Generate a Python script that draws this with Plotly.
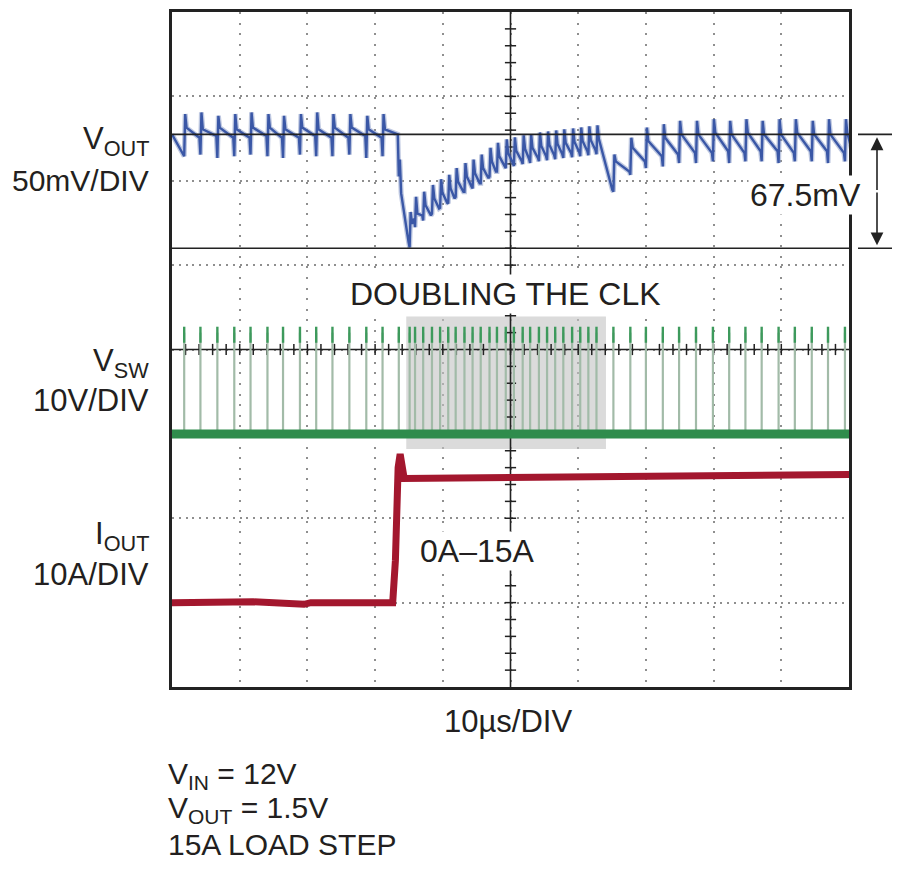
import plotly.graph_objects as go

# ---------------- data ----------------
# horizontal: time in µs (10 µs/DIV, 10 divisions)
SW_PULSE_T = [1.8, 4.2, 6.7, 9.2, 11.6, 14.1, 16.4, 18.9, 21.3, 23.7, 26.2, 28.7, 31.1, 33.5,
              35.1, 35.9, 37.1, 38.4, 39.6, 40.8, 41.9, 43.2, 44.4, 45.6, 46.9, 48.0, 49.3, 50.5,
              51.8, 52.9, 54.2, 55.4, 56.6, 57.8, 59.1, 60.3, 61.5, 62.7,
              65.2, 67.7, 70.0, 72.5, 74.9, 77.4, 79.9, 82.3, 84.7, 87.1, 89.6, 92.0, 94.5, 96.9, 99.4]
SW_HIGH_V = 12.0          # switch-node pulse height (V)
SW_TIP_LOW_V = 10.8       # darker tip of each pulse (V)
SW_TIP_HIGH_V = 12.7

# VOUT ripple per switching cycle, mV relative to the upper cursor level
VOUT_START_MV = 0.0
VOUT_TROUGH = [-13, -12, -14, -13, -12, -13, -14, -12, -13, -13, -12, -14, -13, -25,
               -67, -55,
               -51, -47, -43.6, -41, -37, -34, -32, -29, -25, -22, -20, -18.8, -17.6, -17,
               -15.9, -15.3, -14.7, -14, -13.5, -12.9, -12.3, -11.7,
               -34, -24, -20, -19, -17, -17, -16, -17, -16, -16, -17, -16, -16, -17, -16]
VOUT_PEAK = [12, 13, 11, 12, 13, 12, 11, 12, 13, 12, 12, 11, 12, -15,
             -46, -37,
             -34, -30, -26.6, -24, -20, -17, -15, -12, -8, -5, -3, -1.8, -0.6, 0,
             1.1, 1.7, 2.3, 3, 3.5, 4.1, 4.7, 5.3,
             -12, -2, 4, 6, 8, 8, 9, 8, 9, 8, 9, 9, 8, 9, 9]
VOUT_CYCLE_START = [4, 3, 4, 3, 4, 4, 3, 4, 3, 4, 4, 3, 3, -35,
                    -53, -47,
                    -42, -38, -34.6, -32, -28, -25, -23, -20, -16, -13, -11, -9.8, -8.6, -8,
                    -6.9, -6.3, -5.7, -5, -4.5, -3.9, -3.3, -2.7,
                    -16, -8, -4, -2, 0, 0, 1, 0, 1, 0, 0, 1, 0, 0, 1]
VOUT_CYCLE_END = [-2, -1, -2, -2, -1, -2, -2, -1, -2, -2, -1, -2, 0, -64,
                  -50, -48,
                  -48, -44, -40.6, -38, -34, -31, -29, -26, -22, -19, -17, -15.8, -14.6, -14,
                  -12.9, -12.3, -11.7, -11, -10.5, -9.9, -9.3, -33,
                  -22, -16, -13, -12, -11, -11, -10, -11, -10, -10, -11, -10, -10, -11, -10]

# IOUT (A) vs time (µs)
IOUT_T = [0, 12, 19.5, 20.5, 32.6, 33.0, 33.4, 33.7, 34.3, 45, 70, 100]
IOUT_A = [0.0, 0.1, -0.2, 0.0, 0.0, 5.0, 16.0, 17.6, 14.7, 14.8, 15.0, 15.2]

CURSOR_MV = [0.0, -67.5]
CURSOR_LABEL = "67.5mV"
DOUBLING_T = [34.6, 64.1]      # µs window of the doubled clock
DOUBLING_V = [-1.8, 13.9]      # vertical extent in VSW volts

# channel settings (divisions from the bottom of the 8-division screen)
VOUT_MV_PER_DIV, VOUT_ZERO_DIV, VOUT_MARK_DIV = 50.0, 6.55, 5.0
VSW_V_PER_DIV, VSW_GND_DIV = 10.0, 3.0
IOUT_A_PER_DIV, IOUT_GND_DIV = 10.0, 1.0

BLUE, GREEN, RED = "#3a57a6", "#2f8c4c", "#a3172e"
TXT = "#231f20"
FONT = "Liberation Sans"

def vout_div(mv):
    return VOUT_ZERO_DIV + mv / VOUT_MV_PER_DIV

def vsw_div(v):
    return VSW_GND_DIV + v / VSW_V_PER_DIV

def iout_div(a):
    return IOUT_GND_DIV + a / IOUT_A_PER_DIV

# build VOUT polyline from per-cycle readings
vx, vy = [0.0], [vout_div(VOUT_START_MV)]
for k, t in enumerate(SW_PULSE_T):
    t_next = SW_PULSE_T[k + 1] if k + 1 < len(SW_PULSE_T) else 100.6
    vx += [t, t + 0.15, t + 0.35, t_next - 0.15]
    vy += [vout_div(VOUT_TROUGH[k]), vout_div(VOUT_PEAK[k]),
           vout_div(VOUT_CYCLE_START[k]), vout_div(VOUT_CYCLE_END[k])]

# switch-node pulses
px_, py_, tx_, ty_ = [], [], [], []
for t in SW_PULSE_T:
    px_ += [t, t, None]
    py_ += [vsw_div(0), vsw_div(SW_HIGH_V), None]
    tx_ += [t, t, None]
    ty_ += [vsw_div(SW_TIP_LOW_V), vsw_div(SW_TIP_HIGH_V), None]

fig = go.Figure()

# center graticule tick marks
xt = [i * 2 for i in range(1, 50)]
yt = [i * 0.2 for i in range(1, 40)]
fig.add_trace(go.Scatter(x=xt, y=[4] * len(xt), mode="markers",
                         marker=dict(symbol="line-ns", size=8, line=dict(width=1.5, color="#222")),
                         hoverinfo="skip", showlegend=False))
fig.add_trace(go.Scatter(x=[50] * len(yt), y=yt, mode="markers",
                         marker=dict(symbol="line-ew", size=8, line=dict(width=1.5, color="#222")),
                         hoverinfo="skip", showlegend=False))

# VSW
fig.add_trace(go.Scatter(x=px_, y=py_, mode="lines", line=dict(color="#a2bba8", width=2.2),
                         hoverinfo="skip", showlegend=False))
fig.add_trace(go.Scatter(x=tx_, y=ty_, mode="lines", line=dict(color="#3d9a5c", width=2.4),
                         hoverinfo="skip", showlegend=False))
fig.add_trace(go.Scatter(x=[0, 100], y=[vsw_div(0), vsw_div(0)], mode="lines",
                         line=dict(color=GREEN, width=9), hoverinfo="skip", showlegend=False))
# IOUT
fig.add_trace(go.Scatter(x=IOUT_T, y=[iout_div(a) for a in IOUT_A], mode="lines",
                         line=dict(color=RED, width=7), hoverinfo="skip", showlegend=False))
# VOUT
fig.add_trace(go.Scatter(x=vx, y=vy, mode="lines", line=dict(color="#7f92c4", width=5),
                         opacity=0.5, hoverinfo="skip", showlegend=False))
fig.add_trace(go.Scatter(x=vx, y=vy, mode="lines", line=dict(color=BLUE, width=2.4),
                         hoverinfo="skip", showlegend=False))

# channel ground markers
fig.add_trace(go.Scatter(x=[-1.3, -1.3, -1.3], y=[VOUT_MARK_DIV, VSW_GND_DIV, IOUT_GND_DIV],
                         mode="markers", cliponaxis=False,
                         marker=dict(symbol="triangle-right", size=9, color=[BLUE, GREEN, RED]),
                         hoverinfo="skip", showlegend=False))

# screen geometry (page has an 8 px body margin)
OFF = 8
PL, PR, PT, PB = 172, 849, 9, 687
W, H = 900 - OFF, 873 - OFF
PX_PER_DIV = (PB - PT) / 8.0

def pxp(x):
    return (x - PL) / (PR - PL)

def pyp(y):
    return (PB - y) / (PB - PT)

shapes = [
    dict(type="rect", xref="x", yref="y", x0=DOUBLING_T[0], x1=DOUBLING_T[1],
         y0=vsw_div(DOUBLING_V[0]), y1=vsw_div(DOUBLING_V[1]),
         fillcolor="rgba(195,195,195,0.6)", line=dict(width=0), layer="between"),
    dict(type="line", xref="x", yref="y", x0=50, x1=50, y0=0, y1=8,
         line=dict(color="#222", width=1.6), layer="between"),
    dict(type="line", xref="x", yref="y", x0=0, x1=100, y0=4, y1=4,
         line=dict(color="#222", width=1.6), layer="between"),
]
for mv in CURSOR_MV:
    shapes.append(dict(type="line", xref="x", yref="y", x0=0, x1=100,
                       y0=vout_div(mv), y1=vout_div(mv), line=dict(color="#222", width=1.6)))
    shapes.append(dict(type="line", xref="paper", yref="y", x0=pxp(858), x1=pxp(897),
                       y0=vout_div(mv), y1=vout_div(mv), line=dict(color="#222", width=1.6)))

ann = []

def label(text, x, y, xanchor="center", bg=None, size=31):
    a = dict(text=text, xref="paper", yref="paper", x=pxp(x), y=pyp(y), xanchor=xanchor,
             yanchor="middle", showarrow=False, font=dict(family=FONT, size=size, color=TXT))
    if bg:
        a.update(bgcolor=bg, borderpad=1)
    ann.append(a)

label("V<sub>OUT</sub>", 151, 139, "right")
label("50mV/DIV", 151, 178, "right", size=30)
label("V<sub>SW</sub>", 151, 362, "right")
label("10V/DIV", 151, 399, "right")
label("I<sub>OUT</sub>", 151, 535, "right")
label("10A/DIV", 151, 574, "right")
label("DOUBLING THE CLK", 505, 292, bg="white", size=32)
label("0A–15A", 477, 550, bg="white", size=32)
label(CURSOR_LABEL, 805, 193, bg="white", size=32)
label("10µs/DIV", 508, 722)
label("V<sub>IN</sub> = 12V", 166, 776, "left", size=30)
label("V<sub>OUT</sub> = 1.5V", 166, 810, "left", size=30)
label("15A LOAD STEP", 166, 845, "left", size=30)

# double-headed arrow for the cursor delta
half = abs(CURSOR_MV[0] - CURSOR_MV[1]) / VOUT_MV_PER_DIV * PX_PER_DIV / 2
for mv, sign in zip(CURSOR_MV, [1, -1]):
    ann.append(dict(x=pxp(877), xref="paper", y=vout_div(mv), yref="y",
                    ax=0, ay=sign * half, text="", showarrow=True, arrowhead=2,
                    arrowsize=1.6, arrowwidth=1.6, arrowcolor="#222", standoff=3))

axis_common = dict(showticklabels=False, ticks="", zeroline=False, showline=True,
                   mirror=True, linecolor="#222", linewidth=2.5, fixedrange=True,
                   showgrid=True, gridcolor="#8f8f8f", gridwidth=1.5)

fig.update_layout(
    width=W, height=H,
    margin=dict(l=PL - OFF, r=900 - PR, t=PT - OFF, b=873 - PB),
    paper_bgcolor="white", plot_bgcolor="white",
    xaxis=dict(range=[0, 100], dtick=10, griddash="2px,8.6px", **axis_common),
    yaxis=dict(range=[0, 8], dtick=1, griddash="2px,4.77px", **axis_common),
    shapes=shapes, annotations=ann, showlegend=False,
)

fig.write_html("out.html")
